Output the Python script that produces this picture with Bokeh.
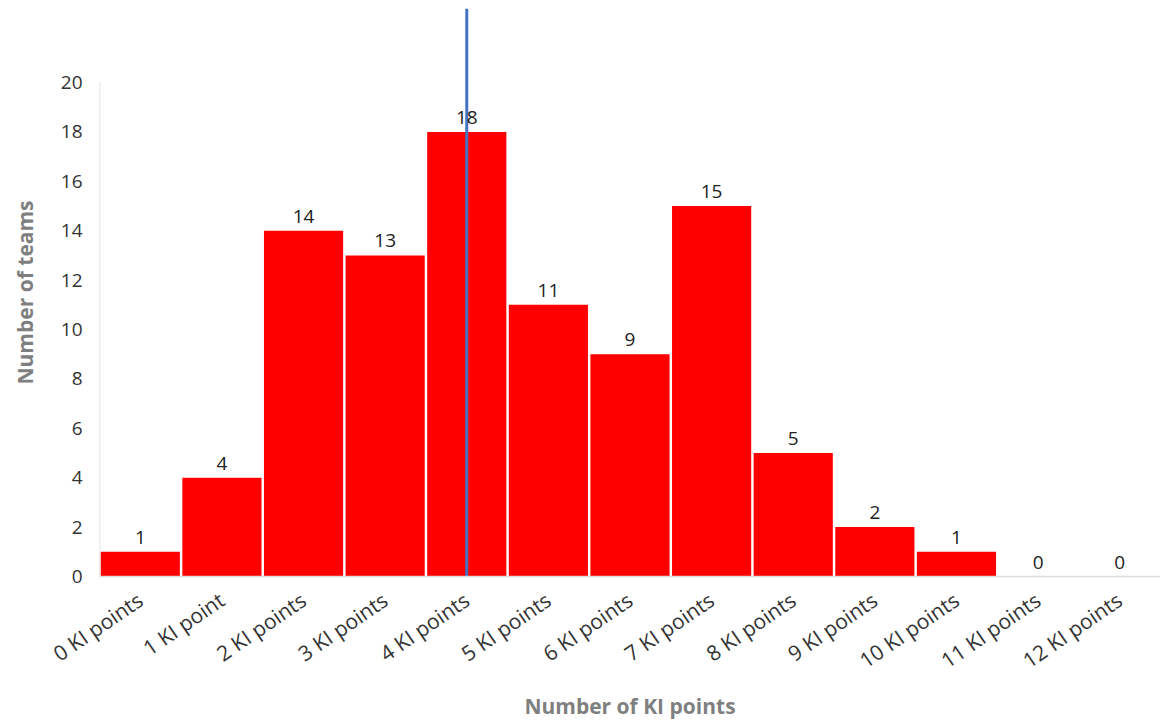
import math
from bokeh.plotting import figure
from bokeh.models import ColumnDataSource, FixedTicker, LabelSet, Range1d
from bokeh.core.properties import value
from bokeh.embed import file_html
from bokeh.resources import INLINE

categories = ["0 KI points", "1 KI point", "2 KI points", "3 KI points", "4 KI points",
              "5 KI points", "6 KI points", "7 KI points", "8 KI points", "9 KI points",
              "10 KI points", "11 KI points", "12 KI points"]
teams = [1, 4, 14, 13, 18, 11, 9, 15, 5, 2, 1, 0, 0]
y_ticks = [0, 2, 4, 6, 8, 10, 12, 14, 16, 18, 20]
marker_x = 4
marker_top = 23

FONT = "Open Sans"
xs = list(range(len(categories)))
src = ColumnDataSource(dict(x=xs, y=teams, lab=[str(v) for v in teams]))

p = figure(width=1160, height=724, output_backend="svg", toolbar_location=None,
           x_range=Range1d(-0.5, len(categories) - 0.5), y_range=Range1d(0, 23),
           min_border_left=99, min_border_right=0, min_border_top=8, min_border_bottom=148)
p.outline_line_color = None
p.grid.visible = False

p.vbar(x="x", top="y", width=0.97, source=src, fill_color="#FF0000", line_color=None)

labels = LabelSet(x="x", y="y", text="lab", source=src, text_align="center",
                  text_baseline="bottom", y_offset=8, text_font=value(FONT),
                  text_font_size="19px", text_color="#222222")
p.add_layout(labels)

# y axis line (only up to 20)
p.segment(x0=[-0.5], y0=[0], x1=[-0.5], y1=[y_ticks[-1]], line_color="#d9d9d9", line_width=1.5)
# vertical marker line
p.segment(x0=[marker_x], y0=[0], x1=[marker_x], y1=[marker_top], line_color="#4472C4", line_width=3)

xa = p.xaxis[0]
xa.ticker = FixedTicker(ticks=xs)
xa.major_label_overrides = {i: c for i, c in enumerate(categories)}
xa.major_label_orientation = 0.6
xa.major_tick_line_color = None
xa.minor_tick_line_color = None
xa.axis_line_color = "#d9d9d9"
xa.axis_line_width = 1.5
xa.major_label_text_font = FONT
xa.major_label_text_font_size = "21px"
xa.major_label_text_color = "#333333"
xa.major_label_standoff = 15
xa.axis_label = "Number of KI points"
xa.axis_label_text_font = FONT
xa.axis_label_text_font_size = "21px"
xa.axis_label_text_font_style = "bold"
xa.axis_label_text_color = "#7f7f7f"
xa.axis_label_standoff = 4

ya = p.yaxis[0]
ya.ticker = FixedTicker(ticks=y_ticks)
ya.axis_line_color = None
ya.major_tick_line_color = None
ya.minor_tick_line_color = None
ya.major_label_text_font = FONT
ya.major_label_text_font_size = "19px"
ya.major_label_text_color = "#333333"
ya.major_label_standoff = 11
ya.axis_label = "Number of teams"
ya.axis_label_text_font = FONT
ya.axis_label_text_font_size = "21px"
ya.axis_label_text_font_style = "bold"
ya.axis_label_text_color = "#7f7f7f"
ya.axis_label_standoff = 19

open("out.html", "w").write(file_html(p, INLINE))
